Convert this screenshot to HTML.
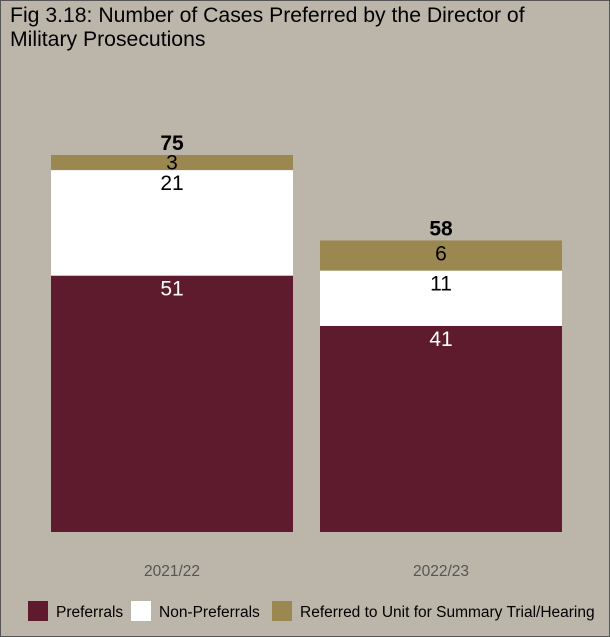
<!DOCTYPE html>
<html><head><meta charset="utf-8"><style>
html,body{margin:0;padding:0}
body{width:610px;height:637px;background:#bcb6aa;font-family:"Liberation Sans",sans-serif;overflow:hidden;position:relative}
#frame{position:absolute;left:0;top:0;width:608px;height:635px;border:1px solid #555}
.title{position:absolute;left:10px;top:4px;font-size:21.2px;line-height:24px;color:#000}
</style></head><body>
<div id="frame"></div>
<div class="title">Fig 3.18: Number of Cases Preferred by the Director of<br>Military Prosecutions</div>
<svg id="chart" width="610" height="637" style="position:absolute;left:0;top:0"></svg>
<script>
const categories = ["2021/22", "2022/23"];
const preferrals = [51, 41];
const nonPreferrals = [21, 11];
const referred = [3, 6];
const seriesNames = ["Preferrals", "Non-Preferrals", "Referred to Unit for Summary Trial/Hearing"];
const colors = ["#5e1b2e", "#ffffff", "#9b8850"];
const textColors = ["#ffffff", "#000000", "#000000"];

const NS = "http://www.w3.org/2000/svg";
const svg = document.getElementById("chart");
const baseY = 532, pxPerUnit = 377 / 75;
const bandStart = 51, bandStep = 269, barW = 242;
function y(v){ return baseY - v * pxPerUnit; }
function x(i){ return bandStart + i * bandStep; }
function mk(tag, attrs){ const e = document.createElementNS(NS, tag); for (const k in attrs) e.setAttribute(k, attrs[k]); svg.appendChild(e); return e; }

const series = [preferrals, nonPreferrals, referred];
categories.forEach((c, i) => {
  let cum = 0;
  series.forEach((s, si) => {
    const v = s[i];
    const r = mk("rect", {x: x(i), y: y(cum + v), width: barW, height: y(cum) - y(cum + v), fill: colors[si]});
    
    
    cum += v;
  });
  cum = 0;
  series.forEach((s, si) => {
    const v = s[i];
    const top = y(cum + v);
    const h = v * pxPerUnit;
    const t = mk("text", {x: x(i) + barW/2, y: top + Math.min(20, h/2 + 7), "text-anchor": "middle", "font-size": 21, fill: textColors[si]});
    t.textContent = v;
    
    
    cum += v;
  });
  const tot = mk("text", {x: x(i) + barW/2, y: y(cum) - 5, "text-anchor": "middle", "font-size": 21, "font-weight": "bold", fill: "#000"});
  tot.textContent = cum;
  
  
  const xl = mk("text", {x: x(i) + barW/2, y: 576, "text-anchor": "middle", "font-size": 15.5, fill: "#555"});
  xl.textContent = c;
  
  
});

const legendX = [28, 131, 272];
seriesNames.forEach((n, si) => {
  const r = mk("rect", {x: legendX[si], y: 601, width: 20, height: 20, fill: colors[si]});
  
  
  const t = mk("text", {x: legendX[si] + 28, y: 617, "font-size": 15.5, fill: "#000"});
  t.textContent = n;
  
  
});
</script>
</body></html>
